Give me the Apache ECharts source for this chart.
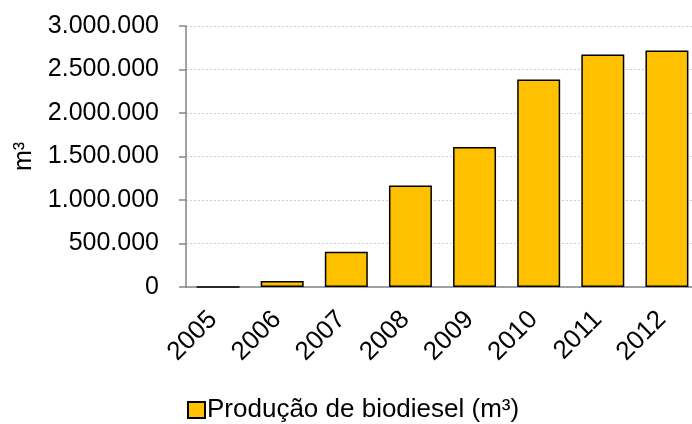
<!DOCTYPE html>
<html>
<head>
<meta charset="utf-8">
<script src="https://cdn.jsdelivr.net/npm/echarts@6/dist/echarts.min.js"></script>
<style>
  html, body { margin: 0; padding: 0; background: #fff; }
  #chart { width: 692px; height: 424px; }
</style>
</head>
<body>
<div id="chart"></div>
<script>
// anos e producao de biodiesel (m3)
var years = ['2005', '2006', '2007', '2008', '2009', '2010', '2011', '2012'];
var production = [736, 69002, 404329, 1167128, 1608448, 2386399, 2672760, 2717483];
var seriesName = 'Produção de biodiesel (m³)';
var yTicks = [0, 500000, 1000000, 1500000, 2000000, 2500000, 3000000];

var FONT = '"Liberation Sans", Arial, sans-serif';

function fmtThousands(v) {
  return String(v).replace(/\B(?=(\d{3})+(?!\d))/g, '.');
}

var chart = echarts.init(document.getElementById('chart'));
chart.setOption({
  animation: false,
  backgroundColor: '#fff',
  textStyle: { fontFamily: FONT },
  // a area do grafico passa um pouco da borda direita, como no original
  grid: {
    left: 186, top: 26, width: 513, height: 261,
    containLabel: false, outerBoundsMode: 'none'
  },
  legend: {
    data: [seriesName],
    left: 187,
    top: 397,
    padding: 0,
    icon: 'rect',
    itemWidth: 17,
    itemHeight: 16,
    itemGap: 4,
    textStyle: { fontSize: 26, color: '#000', fontFamily: FONT, padding: [0, 0, 0, -3] }
  },
  xAxis: {
    type: 'category',
    data: years,
    axisLine: { lineStyle: { color: '#868686', width: 1.5 } },
    axisTick: { length: 7, lineStyle: { color: '#868686', width: 1.5 } },
    axisLabel: {
      rotate: 45, fontSize: 26, color: '#000', margin: 42,
      align: 'right', verticalAlign: 'bottom', padding: [0, -6, 0, 0], fontFamily: FONT
    }
  },
  yAxis: {
    type: 'value',
    min: yTicks[0],
    max: yTicks[yTicks.length - 1],
    interval: yTicks[1] - yTicks[0],
    name: 'm³',
    nameLocation: 'middle',
    nameGap: 149,
    nameTextStyle: { fontSize: 25, color: '#000', fontFamily: FONT },
    axisLine: { show: true, lineStyle: { color: '#868686', width: 1.5 } },
    axisTick: { show: true, length: 7, lineStyle: { color: '#868686', width: 1.5 } },
    axisLabel: { fontSize: 25, color: '#000', margin: 27, fontFamily: FONT, formatter: fmtThousands },
    splitLine: { lineStyle: { color: '#cfcfcf', type: [2, 2], width: 1 } }
  },
  series: [{
    name: seriesName,
    type: 'bar',
    data: production,
    barWidth: '67%',
    itemStyle: { color: '#FFC000', borderColor: '#000', borderWidth: 1.5 }
  }]
});
</script>
</body>
</html>
